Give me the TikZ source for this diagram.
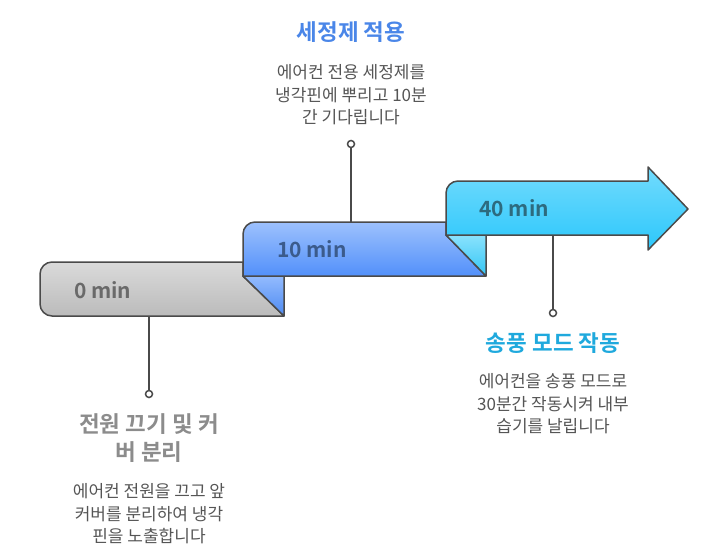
\documentclass[tikz,border=0pt]{standalone}
\usepackage{fontspec}
\setmainfont{Noto Sans CJK KR}[BoldFont={Noto Sans CJK KR Bold}]
\usepackage{tikz}
\definecolor{lineink}{HTML}{4A4A4A}
\definecolor{textink}{HTML}{555555}
\definecolor{graytop}{HTML}{DADADA}
\definecolor{graybot}{HTML}{BBBBBB}
\definecolor{bluetop}{HTML}{9DC1FD}
\definecolor{bluebot}{HTML}{5290FA}
\definecolor{bluefoldtop}{HTML}{93BBFE}
\definecolor{bluefoldbot}{HTML}{4D8AF2}
\definecolor{cyantop}{HTML}{72DBFD}
\definecolor{cyanbot}{HTML}{2CC7FB}
\definecolor{cyanfoldtop}{HTML}{8AE2FD}
\definecolor{cyanfoldbot}{HTML}{33C6F5}
\definecolor{grayhead}{HTML}{8C8C8C}
\definecolor{bluehead}{HTML}{4A86E8}
\definecolor{cyanhead}{HTML}{1FA9DD}
\definecolor{graylabel}{HTML}{6A6A6A}
\definecolor{bluelabel}{HTML}{3B5B8C}
\definecolor{cyanlabel}{HTML}{2D6B7F}

\tikzset{
  band/.style={draw=lineink, line width=1.5pt, line join=round},
  stem/.style={draw=lineink, line width=1.5pt},
  dot/.style={circle, draw=lineink, line width=1.5pt, fill=white, minimum size=7pt, inner sep=0pt},
  timelabel/.style={anchor=west, inner sep=0pt, font=\fontsize{21}{21}\selectfont\bfseries},
  head/.style={align=center, inner sep=0pt, font=\fontsize{22.5}{28}\selectfont\bfseries},
  desc/.style={align=center, inner sep=0pt, text=textink, font=\fontsize{17}{22.5}\selectfont}
}

\begin{document}
\begin{tikzpicture}[x=1pt, y=-1pt]
\useasboundingbox (0,0) rectangle (719,549);

% gray band and its fold
\path[band, top color=graytop, bottom color=graybot]
  (243,262) -- (52,262) .. controls (45.4,262) and (40,267.4) .. (40,274)
  -- (40,304) .. controls (40,310.6) and (45.4,316) .. (52,316)
  -- (284,316) -- (243,276) -- cycle;
\path[band, top color=bluefoldtop, bottom color=bluefoldbot]
  (243,276) -- (284,276) -- (284,316) -- cycle;

% blue band and its fold
\path[band, top color=bluetop, bottom color=bluebot]
  (446,222) -- (255,222) .. controls (248.4,222) and (243,227.4) .. (243,234)
  -- (243,276) -- (486,276) -- (446,235) -- cycle;
\path[band, top color=cyanfoldtop, bottom color=cyanfoldbot]
  (446,235) -- (486,235) -- (486,276) -- cycle;

% cyan arrow
\path[band, top color=cyantop, bottom color=cyanbot]
  (446,235) -- (446,193) .. controls (446,186.4) and (451.4,181) .. (458,181)
  -- (648,181) -- (648,167) -- (688,209) -- (648,250) -- (648,235) -- cycle;

\node[timelabel, text=graylabel] (t0) at (74,290) {0 min};
\node[timelabel, text=bluelabel] (t10) at (277,249) {10 min};
\node[timelabel, text=cyanlabel] (t40) at (479,208) {40 min};

\coordinate (s0) at (149,316);
\coordinate (s10) at (351,222);
\coordinate (s40) at (553,235);
\node[dot] (d0) at (149,394) {};
\node[dot] (d10) at (351,144) {};
\node[dot] (d40) at (553,313) {};
\draw[stem] (s0) -- (d0);
\draw[stem] (s10) -- (d10);
\draw[stem] (s40) -- (d40);

\node[head, text=grayhead] (h0) at (149,438) {전원 끄기 및 커\\버 분리};
\node[head, text=bluehead] (h10) at (351,32) {세정제 적용};
\node[head, text=cyanhead] (h40) at (553,343) {송풍 모드 작동};

\node[desc] (p0) at (149,514) {에어컨 전원을 끄고 앞\\커버를 분리하여 냉각\\핀을 노출합니다};
\node[desc] (p10) at (351,95) {에어컨 전용 세정제를\\냉각핀에 뿌리고 10분\\간 기다립니다};
\node[desc] (p40) at (553,404) {에어컨을 송풍 모드로\\30분간 작동시켜 내부\\습기를 날립니다};
\end{tikzpicture}
\end{document}
